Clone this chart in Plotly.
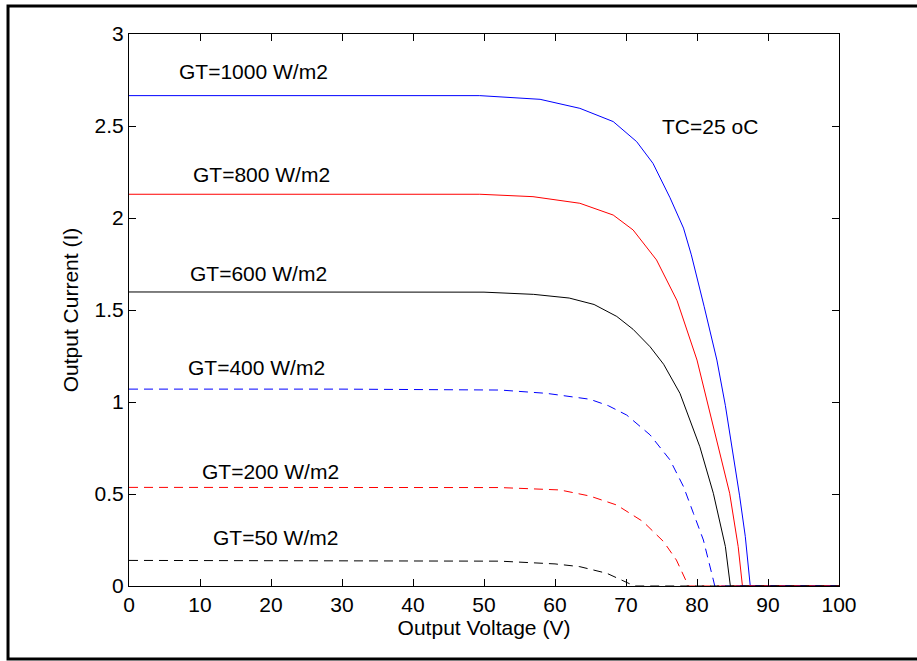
import plotly.graph_objects as go

# ---- Data ----
v_1000 = [0, 30, 49.4, 57.9, 63.5, 68.2, 71.5, 73.8, 76.2, 78.1, 79.2, 81.0, 82.8, 84.0, 85.0, 86.0, 86.8, 87.5, 100]
i_1000 = [2.665, 2.665, 2.665, 2.645, 2.596, 2.524, 2.415, 2.297, 2.110, 1.945, 1.80, 1.52, 1.228, 0.98, 0.74, 0.49, 0.27, 0, 0]

v_800 = [0, 30, 49.4, 56.9, 63.5, 68.2, 71.0, 74.3, 77.2, 80.0, 82.3, 84.6, 85.8, 86.4, 100]
i_800 = [2.129, 2.129, 2.129, 2.116, 2.08, 2.016, 1.935, 1.772, 1.55, 1.228, 0.866, 0.504, 0.214, 0, 0]

v_600 = [0, 30, 50, 57, 62, 65.5, 68.7, 71, 73.4, 75.3, 77.6, 80.4, 82.3, 84.0, 84.7, 100]
i_600 = [1.598, 1.598, 1.597, 1.585, 1.565, 1.53, 1.465, 1.395, 1.30, 1.205, 1.047, 0.757, 0.504, 0.214, 0, 0]

v_400 = [0, 30, 52.3, 58.8, 64.9, 67.5, 70.1, 73.4, 76.2, 78.1, 79.5, 80.9, 82.3, 82.5, 100]
i_400 = [1.07, 1.07, 1.065, 1.047, 1.015, 0.98, 0.929, 0.821, 0.685, 0.54, 0.395, 0.25, 0.033, 0, 0]

v_200 = [0, 30, 52.3, 60.7, 64.9, 68.7, 72.4, 75.3, 77.1, 78.4, 78.6, 100]
i_200 = [0.536, 0.536, 0.535, 0.522, 0.489, 0.44, 0.35, 0.241, 0.141, 0.033, 0, 0]

v_50 = [0, 30, 52.3, 60.0, 63.5, 67.3, 71.0, 71.2, 100]
i_50 = [0.139, 0.139, 0.135, 0.12, 0.105, 0.069, 0.005, 0, 0]

series = [
    ("GT=1000 W/m2", v_1000, i_1000, "#0000ff", "solid"),
    ("GT=800 W/m2", v_800, i_800, "#ff0000", "solid"),
    ("GT=600 W/m2", v_600, i_600, "#000000", "solid"),
    ("GT=400 W/m2", v_400, i_400, "#0000ff", "9px,6px"),
    ("GT=200 W/m2", v_200, i_200, "#ff0000", "9px,6px"),
    ("GT=50 W/m2", v_50, i_50, "#000000", "9px,6px"),
]

# label positions (data coords)
label_x = [17.6, 18.7, 18.3, 17.9, 19.9, 20.7]
label_y = [2.794, 2.234, 1.701, 1.19, 0.62, 0.264]
tc_label = "TC=25 oC"
tc_x, tc_y = 81.8, 2.5

x_ticks = list(range(0, 101, 10))
y_ticks = [0, 0.5, 1, 1.5, 2, 2.5, 3]

FONT = "Liberation Sans, Arial, sans-serif"
FS = 21

fig = go.Figure()
for name, v, i, col, dash in series:
    fig.add_trace(go.Scatter(x=v, y=i, mode="lines", name=name,
                             line=dict(color=col, width=1, dash=dash),
                             showlegend=False, hoverinfo="skip"))

for (name, *_), lx, ly in zip(series, label_x, label_y):
    fig.add_annotation(x=lx, y=ly, text=name, showarrow=False,
                       font=dict(size=FS, color="black", family=FONT),
                       xanchor="center", yanchor="middle")
fig.add_annotation(x=tc_x, y=tc_y, text=tc_label, showarrow=False,
                   font=dict(size=FS, color="black", family=FONT),
                   xanchor="center", yanchor="middle")

# outer frame
fig.add_shape(type="rect", xref="paper", yref="paper",
              x0=-0.1704, x1=1.1127, y0=-0.1322, y1=1.0507,
              line=dict(color="black", width=3), layer="above")

axis_common = dict(showline=True, linecolor="black", linewidth=1, mirror="allticks",
                   ticks="inside", ticklen=7, tickcolor="black", tickwidth=1,
                   showgrid=False, zeroline=False,
                   tickfont=dict(size=FS, color="black", family=FONT))

fig.update_xaxes(range=[0, 100], tickvals=x_ticks,
                 title=dict(text="Output Voltage (V)", font=dict(size=FS, color="black", family=FONT), standoff=4),
                 **axis_common)
fig.update_yaxes(range=[0, 3], tickvals=y_ticks,
                 title=dict(text="Output Current (I)", font=dict(size=FS, color="black", family=FONT), standoff=10),
                 **axis_common)

fig.update_layout(width=917, height=661,
                  margin=dict(l=129, r=78, t=34, b=75),
                  paper_bgcolor="white", plot_bgcolor="white",
                  font=dict(family=FONT, color="black"))

fig.write_html("out.html")
